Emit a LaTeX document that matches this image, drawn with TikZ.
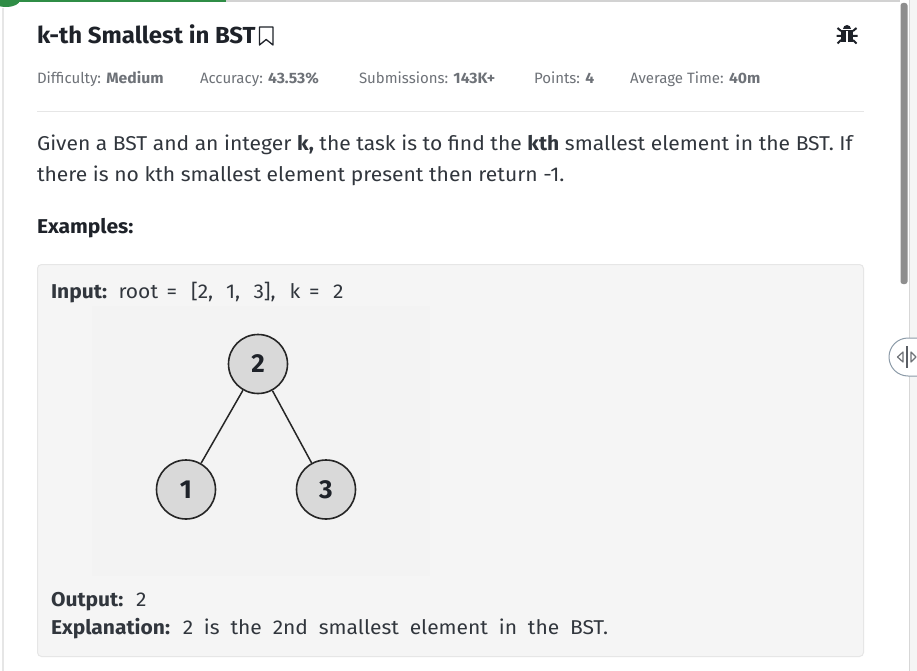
\documentclass[tikz,border=0pt]{standalone}
\usepackage{fontspec}
\setmainfont{Fira Sans}
\newfontfamily\bodyfont{Fira Sans}[FakeStretch=1.053]
\newfontfamily\wideb{Fira Sans}[FakeStretch=1.05,WordSpace=1.95]
\newfontfamily\titlefont{Fira Sans}[FakeStretch=1.035]
\newfontfamily\metafont{Fira Sans}[BoldFeatures={FakeStretch=1.05}]
\newcommand{\fs}[1]{\fontsize{#1}{#1}\selectfont}
\definecolor{ttl}{HTML}{1E2229}
\definecolor{meta}{HTML}{6E7278}
\definecolor{bodyc}{HTML}{31363D}
\definecolor{boxc}{HTML}{F5F5F5}
\definecolor{boxl}{HTML}{E6E6E6}
\definecolor{imgbg}{HTML}{F3F3F3}
\definecolor{nodec}{HTML}{D9D9D9}
\definecolor{gfg}{HTML}{2F8D46}
\definecolor{sb}{HTML}{8E8E8E}
\definecolor{handle}{HTML}{8C9BA8}
\tikzset{
  txt/.style={anchor=base west,inner sep=0pt,outer sep=0pt},
  titlet/.style={txt,font=\titlefont\fs{23.2}\bfseries,text=ttl},
  metat/.style={txt,font=\metafont\fs{15},text=meta},
  bodyt/.style={txt,font=\bodyfont\fs{20},text=bodyc},
  headt/.style={txt,font=\bodyfont\fs{20},text=ttl},
  codet/.style={txt,font=\wideb\fs{20},text=bodyc},
  treenode/.style={circle,draw=black!85,line width=1.6pt,fill=nodec,minimum size=59pt,inner sep=0pt,font=\fs{26}\bfseries,text=ttl},
  treeedge/.style={draw=black!85,line width=1.5pt},
}
\begin{document}
\begin{tikzpicture}[x=1pt,y=-1pt]
\useasboundingbox (0,0) rectangle (917,671);
\fill[white] (0,0) rectangle (917,671);
% frame and progress
\fill[boxl!80!gray] (226,0) rectangle (900,2);
\fill[gfg] (0,0) rectangle (226,2);
\fill[gfg] (20,0) arc (0:-180:14pt and 7pt) -- cycle;
\fill[boxl] (2,8) rectangle (3.5,671);
% scrollbar region
\fill[white!96!black] (910,0) rectangle (917,671);
\draw[boxl!85!gray,line width=1pt] (909.5,0) -- (909.5,671);
\fill[sb,rounded corners=2.5pt] (900.5,3) rectangle (907.5,284);
% title
\node[titlet] (title) at (37,43.5) {k-th Smallest in BST};
\draw[ttl,line width=1.3pt,line join=round] (259.5,27) -- (273,27) -- (273,45) -- (266.2,39.5) -- (259.5,45) -- cycle;
% bug icon
\begin{scope}[shift={(847,34)}]
\fill[ttl] (-4,-5) arc (180:0:4pt) -- cycle;
\fill[ttl] (-6,-4) rectangle (6,8);
\fill[white] (-0.7,-3) rectangle (0.7,9);
\draw[ttl,line width=2pt] (-6,-3) -- (-9.5,-6) (6,-3) -- (9.5,-6) (-6,2) -- (-10.5,2) (6,2) -- (10.5,2) (-6,6) -- (-9.5,9.5) (6,6) -- (9.5,9.5);
\end{scope}
% meta
\node[metat] (m1) at (37,84) {Difficulty: \textbf{Medium}};
\node[metat] (m2) at (200,84) {Accuracy: \textbf{43.53\%}};
\node[metat] (m3) at (359,84) {Submissions: \textbf{143K+}};
\node[metat] (m4) at (534,84) {Points: \textbf{4}};
\node[metat] (m5) at (630,84) {Average Time: \textbf{40m}};
\draw[boxl,line width=1pt] (37,111.5) -- (864,111.5);
% text
\node[bodyt] (p1) at (37,151) {Given a BST and an integer \textbf{k,} the task is to find the \textbf{kth} smallest element in the BST. If};
\node[bodyt] (p2) at (37,182) {there is no kth smallest element present then return -1.};
\node[headt] (ex) at (37,233) {\textbf{Examples:}};
% box
\draw[boxl,fill=boxc,rounded corners=4pt,line width=1pt] (37.5,264.5) rectangle (863.5,656.5);
\fill[imgbg] (92,306) rectangle (430,576);
\node[codet] (in) at (51,298) {\textbf{Input:}};
\node[codet] (w1) at (118.5,298) {root};
\node[codet] (w2) at (166.5,298) {=};
\node[codet] (w3) at (191,298) {[2,};
\node[codet] (w4) at (226,298) {1,};
\node[codet] (w5) at (253.5,298) {3],};
\node[codet] (w6) at (289.5,298) {k};
\node[codet] (w7) at (309,298) {=};
\node[codet] (w8) at (333,298) {2};
\node[treenode] (n2) at (258,364) {2};
\node[treenode] (n1) at (186,489.5) {1};
\node[treenode] (n3) at (326,489.5) {3};
\draw[treeedge] (n2) -- (n1);
\draw[treeedge] (n2) -- (n3);
\node[codet] (out) at (51,606) {\textbf{Output:} 2};
\node[codet] (exp) at (51,634) {\textbf{Explanation:} 2 is the 2nd smallest element in the BST.};
% collapse handle
\draw[handle,fill=white,line width=1pt] (917,338) -- (908,338) arc (90:270:19pt) -- (917,376);
\draw[bodyc!80,line width=1.2pt] (907,346) -- (907,368);
\draw[bodyc!70,line width=1.2pt,line join=round] (903,352) -- (897.5,357) -- (903,362) -- cycle;
\draw[bodyc!70,line width=1.2pt,line join=round] (911,352) -- (916,357) -- (911,362) -- cycle;
\end{tikzpicture}
\end{document}
